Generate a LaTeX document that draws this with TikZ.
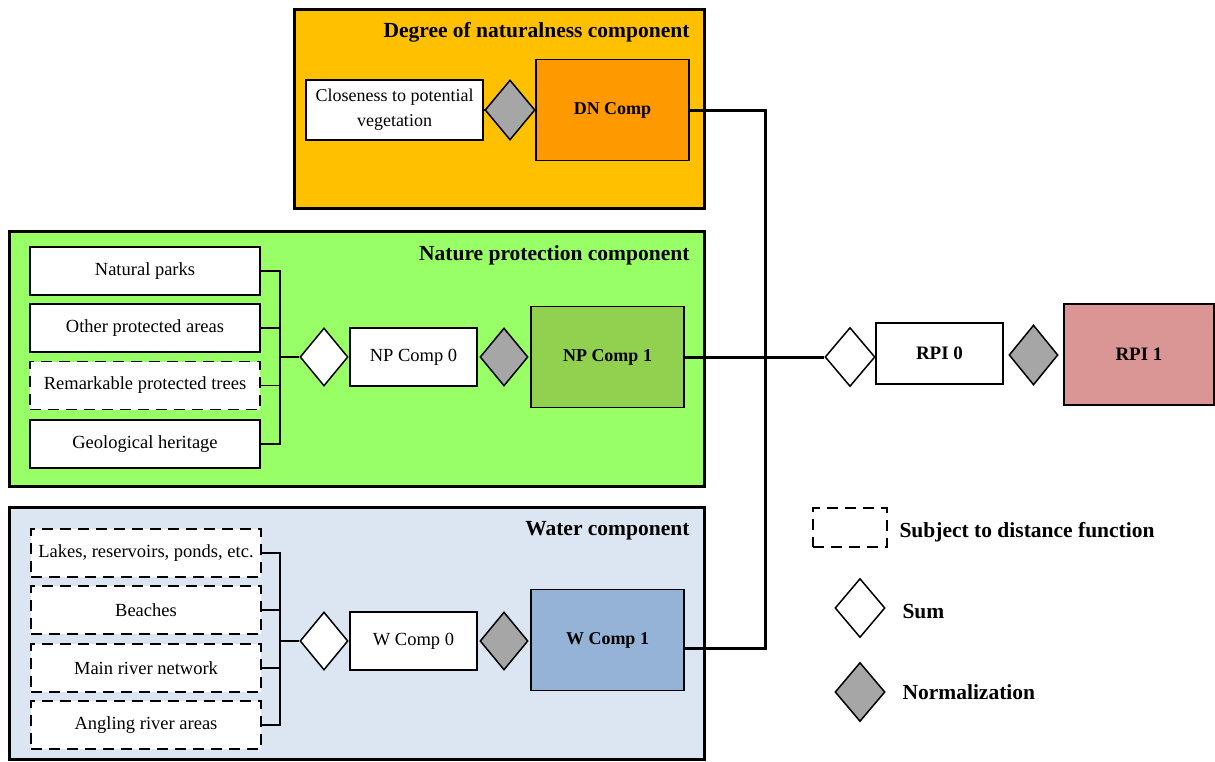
\documentclass[tikz,border=0pt]{standalone}
\usepackage{fontspec}
\setmainfont{Liberation Serif}
\usepackage{tikz}
\usetikzlibrary{positioning,shapes.geometric}

\definecolor{dnback}{HTML}{FFC000}
\definecolor{dnfill}{HTML}{FF9900}
\definecolor{npback}{HTML}{99FF66}
\definecolor{npfill}{HTML}{92D050}
\definecolor{wback}{HTML}{DCE6F2}
\definecolor{wfill}{HTML}{95B3D7}
\definecolor{rpifill}{HTML}{D99694}
\definecolor{normgray}{HTML}{A6A6A6}

\begin{document}
\begin{tikzpicture}[x=1pt, y=-1pt,
  panel/.style={draw=black, line width=3pt, anchor=north west, inner sep=0pt},
  title/.style={font=\fontsize{21.5}{24}\selectfont\bfseries, anchor=east},
  item/.style={draw=black, line width=1.5pt, fill=white, minimum width=230pt, minimum height=48pt, inner sep=0pt, font=\fontsize{18.5}{21}\selectfont},
  ditem/.style={item, dashed, dash pattern=on 11pt off 7pt},
  comp/.style={draw=black, line width=1.5pt, minimum width=153pt, minimum height=101pt, inner sep=0pt, font=\fontsize{18}{20}\selectfont\bfseries},
  zero/.style={draw=black, line width=1.5pt, fill=white, minimum width=127pt, minimum height=58pt, inner sep=0pt, font=\fontsize{18.5}{21}\selectfont},
  sumd/.style={diamond, draw=black, line width=1.5pt, fill=white, minimum width=48pt, minimum height=58pt, inner sep=0pt},
  normd/.style={sumd, fill=normgray},
  link/.style={line width=1.5pt},
  bus/.style={line width=3pt},
  legend/.style={font=\fontsize{21.5}{24}\selectfont\bfseries, anchor=west}]
\useasboundingbox (0,0) rectangle (1215,761);

% degree of naturalness
\node[panel, fill=dnback, minimum width=410pt, minimum height=199pt] (dnpanel) at (293,8) {};
\node[title] (dntitle) at (693,32) {Degree of naturalness component};
\node[item, minimum width=177pt, minimum height=60pt, align=center, font=\fontsize{18}{25}\selectfont] (close) at (394.5,110) {Closeness to potential\\vegetation};
\node[normd, minimum width=50pt, minimum height=60pt] (dnnorm) at (510,110) {};
\node[comp, fill=dnfill] (dncomp) at (612.5,110) {DN Comp};

% nature protection
\node[panel, fill=npback, minimum width=695pt, minimum height=255pt] (nppanel) at (8,230) {};
\node[title] (nptitle) at (693,255) {Nature protection component};
\node[item] (parks) at (145,271) {Natural parks};
\node[item] (other) at (145,328) {Other protected areas};
\node[ditem] (trees) at (145,385.5) {Remarkable protected trees};
\node[item] (geo) at (145,444) {Geological heritage};
\coordinate (npjoin) at (280,357);
\node[sumd] (npsum) at (324,357) {};
\node[zero] (npzero) at (413.5,357) {NP Comp 0};
\node[normd] (npnorm) at (504,357) {};
\node[comp, fill=npfill] (npcomp) at (607.5,357) {NP Comp 1};

% water
\node[panel, fill=wback, minimum width=695pt, minimum height=252pt] (wpanel) at (8,506) {};
\node[title] (wtitle) at (693,531) {Water component};
\node[ditem] (lakes) at (146,553) {Lakes, reservoirs, ponds, etc.};
\node[ditem] (beach) at (146,610) {Beaches};
\node[ditem] (river) at (146,668) {Main river network};
\node[ditem] (angling) at (146,725) {Angling river areas};
\coordinate (wjoin) at (280,641);
\node[sumd] (wsum) at (324,641) {};
\node[zero] (wzero) at (413.5,641) {W Comp 0};
\node[normd] (wnorm) at (504,641) {};
\node[comp, fill=wfill] (wcomp) at (607.5,640) {W Comp 1};

% index
\node[sumd, minimum width=50pt, minimum height=59pt] (rpisum) at (850,357) {};
\node[zero, minimum width=127pt, minimum height=61pt, font=\fontsize{19}{21}\selectfont\bfseries] (rpizero) at (939.5,353.5) {RPI 0};
\node[normd, minimum width=49pt, minimum height=60pt] (rpinorm) at (1033.5,355) {};
\node[comp, fill=rpifill, minimum width=150pt, font=\fontsize{19}{21}\selectfont\bfseries] (rpione) at (1139,354.5) {RPI 1};

% legend
\node[draw=black, line width=1.5pt, dashed, dash pattern=on 11pt off 7pt, minimum width=74pt, minimum height=39pt] (keybox) at (850,527.5) {};
\node[legend] (keyboxtxt) at (896,532) {Subject to distance function};
\node[sumd, minimum width=50pt, minimum height=59pt] (keysum) at (860,608) {};
\node[legend] (keysumtxt) at (899,612) {Sum};
\node[normd, minimum width=50pt, minimum height=59pt] (keynorm) at (860,692) {};
\node[legend] (keynormtxt) at (899,692) {Normalization};

% links
\draw[link] (close) -- (dnnorm) -- (dncomp);
\draw[link] (parks.east) -| (npjoin);
\draw[link] (other.east) -| (npjoin);
\draw[link] (trees.east) -| (npjoin);
\draw[link] (geo.east) -| (npjoin);
\draw[link] (npjoin) -- (npsum.west);
\draw[link] (lakes.east) -| (wjoin);
\draw[link] (beach.east) -| (wjoin);
\draw[link] (river.east) -| (wjoin);
\draw[link] (angling.east) -| (wjoin);
\draw[link] (wjoin) -- (wsum.west);
\coordinate (busjoin) at (765,357);
\draw[bus] (dncomp.east) -| (busjoin);
\draw[bus] ([yshift=-8pt]wcomp.east) -| (busjoin);
\draw[bus] (npcomp.east) -- (rpisum.west);
\end{tikzpicture}
\end{document}
